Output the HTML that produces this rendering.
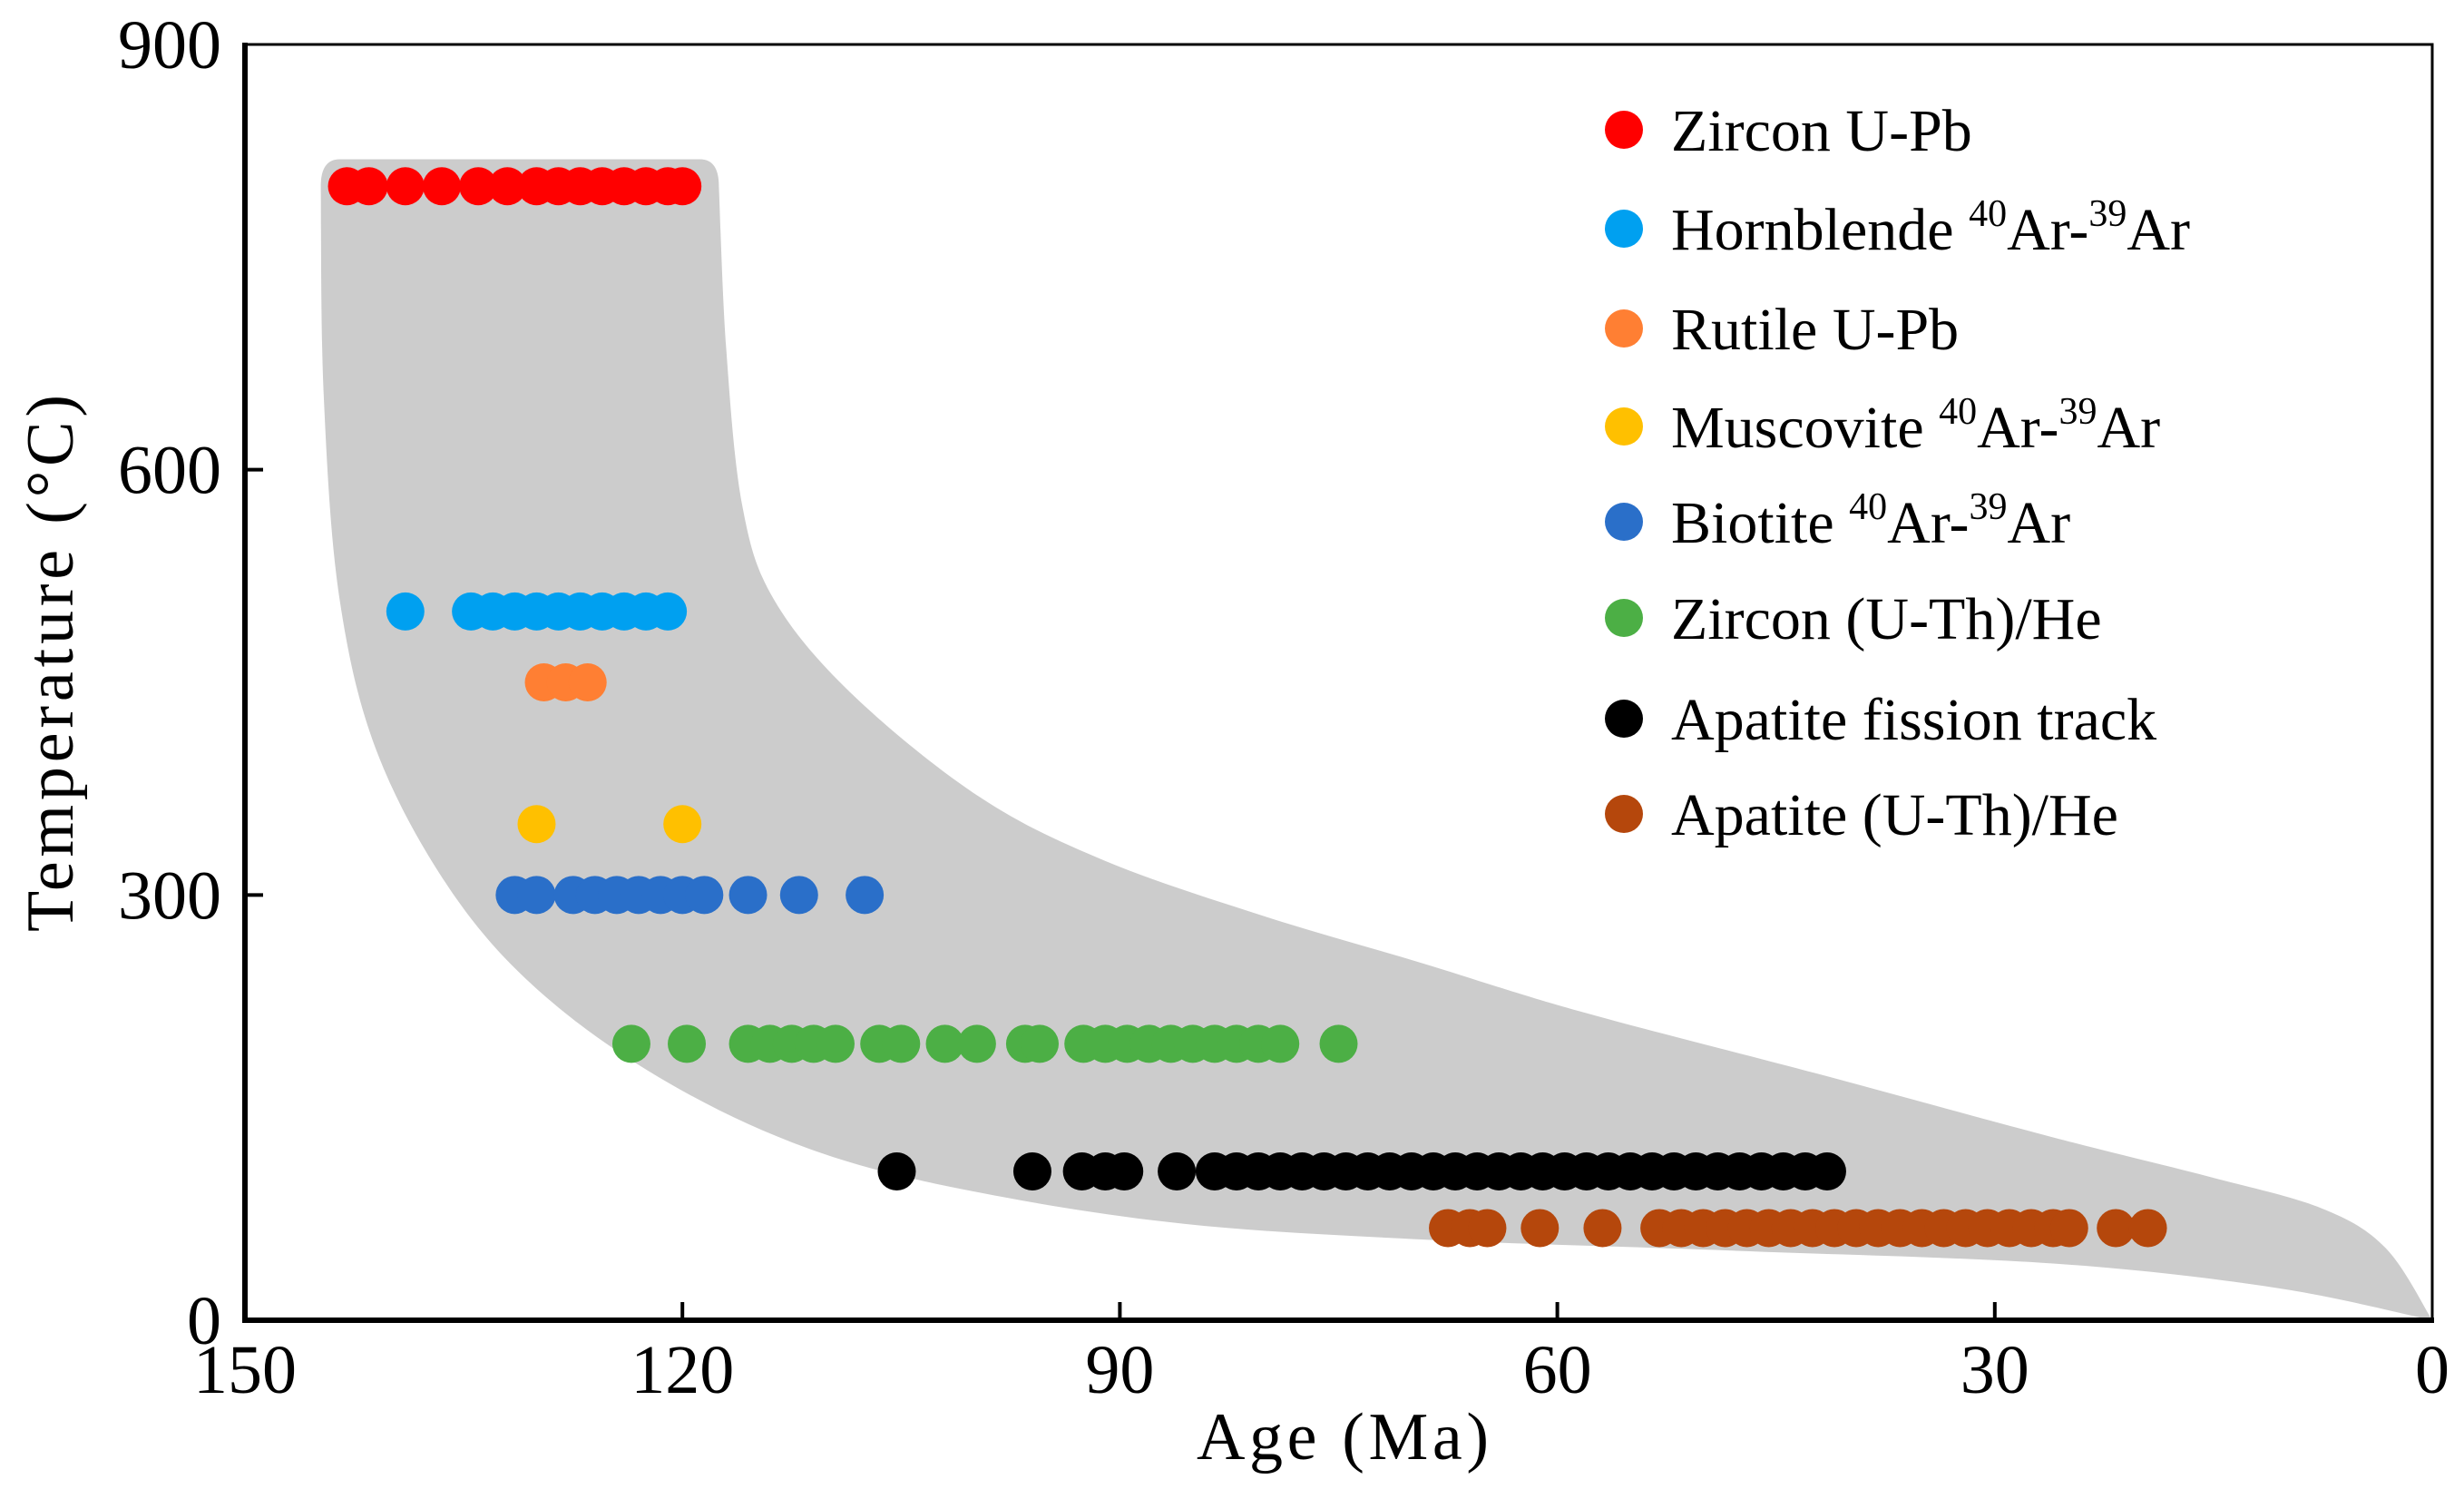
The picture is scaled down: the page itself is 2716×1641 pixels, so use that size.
<!DOCTYPE html>
<html><head><meta charset="utf-8"><style>
html,body{margin:0;padding:0;background:#fff;}
svg{display:block;font-family:"Liberation Serif",serif;}
</style></head><body>
<svg id="chart" width="2716" height="1641" viewBox="0 0 2716 1641" xmlns="http://www.w3.org/2000/svg">
<g id="env"></g>
<g id="pts"></g>
<g id="axes"></g>
<g id="legend"></g>
</svg>
<script>
const seriesNames = ["Zircon U-Pb","Hornblende","Rutile U-Pb","Muscovite","Biotite","Zircon (U-Th)/He","Apatite fission track","Apatite (U-Th)/He"];
const seriesColors = ["#ff0000","#00a0f0","#ff7f33","#ffc000","#2a6fc9","#4caf45","#000000","#b5470c"];
const seriesTemps = [800,500,450,350,300,195,105,65];
const zirconUPbAges = [143,141.5,139,136.5,134,132,130,128.5,127,125.5,124,122.5,121,120];
const hornblendeAges = [139,134.5,133,131.5,130,128.5,127,125.5,124,122.5,121];
const rutileAges = [129.5,128,126.5];
const muscoviteAges = [130,120];
const biotiteAges = [131.5,130,127.5,126,124.5,123,121.5,120,118.5,115.5,112,107.5];
const zirconHeAges = [123.5,119.7,115.5,114,112.5,111,109.5,106.5,105,102,99.8,96.5,95.5,92.5,91,89.5,88,86.5,85,83.5,82,80.5,79,75];
const aftAges = [105.3,96,92.6,91,89.7,86.1,83.5,82,80.5,79,77.5,76,74.5,73,71.5,70,68.5,67,65.5,64,62.5,61,59.5,58,56.5,55,53.5,52,50.5,49,47.5,46,44.5,43,41.5];
const aheAges = [67.5,66,64.8,61.2,56.9,53,51.5,50,48.5,47,45.5,44,42.5,41,39.5,38,36.5,35,33.5,32,30.5,29,27.5,26,24.9,21.7,19.5];
const envLeftAges = [144.8,144.6,143.5,140.8,135.4,128.9,120.2,110.5,99.6,85.6,69.3,47.7,26,10.8,0];
const envLeftTemps = [800,653,508,397,296,224,163,118,90,68,57,49,40,23,0];
const envRightAges = [0,3.2,7.6,15.2,26,42.2,58.5,69.3,80.1,91,99.6,108.3,113.7,115.9,117,117.5];
const envRightTemps = [0,51,79,101,129,174,218,252,285,324,369,441,508,575,686,800];
const envTopTemp = 819;
const xTicks = [150,120,90,60,30,0];
const yTicks = [0,300,600,900];

const allAges = [zirconUPbAges,hornblendeAges,rutileAges,muscoviteAges,biotiteAges,zirconHeAges,aftAges,aheAges];
const L=270,R=2681,T=49,B=1455;
const X=a=>R-(a/150)*(R-L);
const Y=t=>B-(t/900)*(B-T);
const NS="http://www.w3.org/2000/svg";
function mk(tag,attrs,parent){const e=document.createElementNS(NS,tag);for(const k in attrs)e.setAttribute(k,attrs[k]);parent.appendChild(e);return e;}

function crSeg(P){
  let d='';
  const n=P.length;
  for(let i=0;i<n-1;i++){
    const p0=P[Math.max(i-1,0)],p1=P[i],p2=P[i+1],p3=P[Math.min(i+2,n-1)];
    const t=1/6;
    d+=` C${p1[0]+(p2[0]-p0[0])*t},${p1[1]+(p2[1]-p0[1])*t} ${p2[0]-(p3[0]-p1[0])*t},${p2[1]-(p3[1]-p1[1])*t} ${p2[0]},${p2[1]}`;
  }
  return d;
}
const env=document.getElementById('env');
const PL=envLeftAges.map((a,i)=>[X(a),Y(envLeftTemps[i])]);
const PR=envRightAges.map((a,i)=>[X(a),Y(envRightTemps[i])]);
const la0=envLeftAges[0], ra1=envRightAges[envRightAges.length-1];
let d=`M${PL[0][0]},${PL[0][1]}`+crSeg(PL)+crSeg(PR);
d+=` Q${X(ra1)},${Y(envTopTemp)} ${X(ra1+1.3)},${Y(envTopTemp)}`;
d+=` L${X(la0-1.3)},${Y(envTopTemp)} Q${X(la0)},${Y(envTopTemp)} ${PL[0][0]},${PL[0][1]} Z`;
const envPath=mk('path',{d:d,fill:'#cccccc'},env);



const pts=document.getElementById('pts');
allAges.forEach((ages,si)=>{
  const g=mk('g',{fill:seriesColors[si]},pts);
  
  
  ages.forEach(a=>{
    const c=mk('circle',{cx:X(a),cy:Y(seriesTemps[si]),r:21},g);
    
    
  });
});

const ax=document.getElementById('axes');
const frame=mk('rect',{x:L,y:T,width:R-L,height:B-T,fill:'none',stroke:'#000','stroke-width':3},ax);


const lax=mk('line',{x1:L,y1:T-2,x2:L,y2:B+3,stroke:'#000','stroke-width':6},ax);


const bax=mk('line',{x1:L-3,y1:B,x2:R+2,y2:B,stroke:'#000','stroke-width':6},ax);


xTicks.forEach(v=>{
  const x=X(v);
  if(v!==150&&v!==0){const tk=mk('line',{x1:x,y1:B,x2:x,y2:B-20,stroke:'#000','stroke-width':4},ax);
  
  }
  const t=mk('text',{x:x,y:B+80,'font-size':76,'text-anchor':'middle'},ax);
  t.textContent=v;
  
  
});
yTicks.forEach(v=>{
  const y=Y(v);
  if(v!==0&&v!==900){const tk=mk('line',{x1:L,y1:y,x2:L+20,y2:y,stroke:'#000','stroke-width':4},ax);
  
  }
  const t=mk('text',{x:244,y:y+26,'font-size':76,'text-anchor':'end'},ax);
  t.textContent=v;
  
  
});
const xt=mk('text',{x:1480,y:1608,'font-size':74,'text-anchor':'middle',textLength:322},ax);
xt.textContent='Age (Ma)';


const yt=mk('text',{x:0,y:0,'font-size':74,'text-anchor':'middle',textLength:592,transform:'translate(80,731) rotate(-90)'},ax);
yt.textContent='Temperature (°C)';



const lg=document.getElementById('legend');
const legRows=[143,252,362,470,575,681,792,897];
const legLabels=[["Zircon U-Pb"],["Hornblende ","40","Ar-","39","Ar"],["Rutile U-Pb"],["Muscovite ","40","Ar-","39","Ar"],["Biotite ","40","Ar-","39","Ar"],["Zircon (U-Th)/He"],["Apatite fission track"],["Apatite (U-Th)/He"]];
legLabels.forEach((parts,i)=>{
  const g=mk('g',{},lg);
  
  
  mk('circle',{cx:1790,cy:legRows[i],r:21,fill:seriesColors[i]},g);
  const t=mk('text',{x:1842,y:legRows[i]+23,'font-size':66},g);
  parts.forEach((p,k)=>{
    const s=mk('tspan',{},t);
    if(parts.length>1&&(k===1||k===3)){s.setAttribute('font-size',42);s.setAttribute('dy',-26);}
    else if(parts.length>1&&(k===2||k===4)){s.setAttribute('dy',26);}
    s.textContent=p;
  });
});
</script>
</body></html>
